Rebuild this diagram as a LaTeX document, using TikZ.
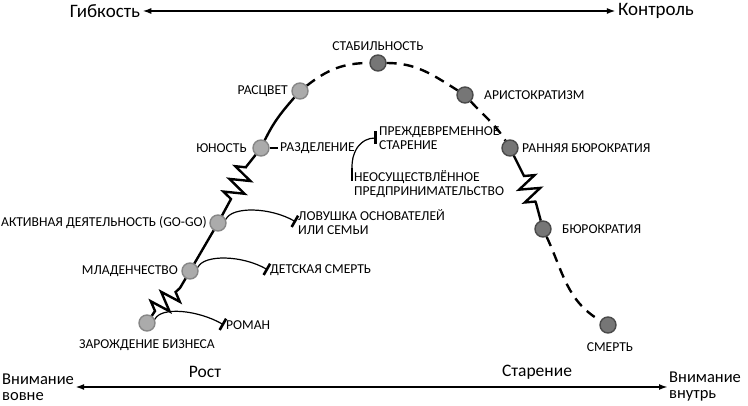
\documentclass[tikz,border=0pt]{standalone}
\usepackage{fontspec}
\setmainfont{Carlito}
\usetikzlibrary{arrows.meta,decorations.pathmorphing}
\definecolor{youngfill}{HTML}{ABABAB}
\definecolor{youngline}{HTML}{878787}
\definecolor{oldfill}{HTML}{767676}
\definecolor{oldline}{HTML}{4A4A4A}

\begin{document}
\begin{tikzpicture}[x=1pt,y=1pt,
    every node/.style={font=\fontsize{13.6}{14.5}\selectfont, inner sep=2pt},
    stage/.style={circle, line width=1.4pt, minimum size=16pt, inner sep=0pt},
    young/.style={stage, draw=youngline, fill=youngfill},
    old/.style={stage, draw=oldline, fill=oldfill},
    big/.style={font=\fontsize{17.5}{16.5}\selectfont},
    huge/.style={font=\fontsize{19}{19}\selectfont},
    side/.style={font=\fontsize{16.5}{16}\selectfont, anchor=west, align=left, inner sep=1pt},
    curve/.style={line width=2.4pt},
    gone/.style={curve, dash pattern=on 10pt off 7pt},
    zz/.style={decoration={zigzag, segment length=14pt, amplitude=10pt}},
    twig/.style={line width=1.2pt},
    trap/.style={twig, -{Bar[width=13pt, line width=2.6pt]}},
    stopbar/.style={line width=2.6pt},
    axis/.style={line width=1.8pt, {Latex[length=9pt,width=6pt]}-{Latex[length=9pt,width=6pt]}}]
    \useasboundingbox (0,0) rectangle (748,406);

    \node (zar)[young]   at (147,83)  {};
    \node (mlad)[young]  at (190,135) {};
    \node (gogo)[young]  at (218,183) {};
    \node (yun)[young]   at (261,258) {};
    \node (rasc)[young]  at (300,315) {};
    \node (stab)[old]    at (378,343) {};
    \node (arist)[old]   at (465,311) {};
    \node (rbur)[old]    at (510,258) {};
    \node (bur)[old]     at (543,177) {};
    \node (smert)[old]   at (608,81)  {};

    \node (zarT)                 at (147,61)  {ЗАРОЖДЕНИЕ БИЗНЕСА};
    \node (mladT)[anchor=east]   at (180,135) {МЛАДЕНЧЕСТВО};
    \node (gogoT)[anchor=east]   at (209,183) {АКТИВНАЯ ДЕЯТЕЛЬНОСТЬ (GO-GO)};
    \node (yunT)[anchor=east]    at (249,258) {ЮНОСТЬ};
    \node (rascT)[anchor=east]   at (290,315) {РАСЦВЕТ};
    \node (stabT)                at (378,360) {СТАБИЛЬНОСТЬ};
    \node (aristT)[anchor=west]  at (482,311) {АРИСТОКРАТИЗМ};
    \node (rburT)[anchor=west]   at (520,258) {РАННЯЯ БЮРОКРАТИЯ};
    \node (burT)[anchor=west]    at (560,177) {БЮРОКРАТИЯ};
    \node (smertT)               at (610,59)  {СМЕРТЬ};

    \node (roman)[anchor=west]   at (224,81)  {РОМАН};
    \node (det)[anchor=west]     at (268,136) {ДЕТСКАЯ СМЕРТЬ};
    \node (lov)[anchor=west, align=left]   at (296,184) {ЛОВУШКА ОСНОВАТЕЛЕЙ\\ИЛИ СЕМЬИ};
    \node (razd)[anchor=west]    at (278,258) {РАЗДЕЛЕНИЕ};
    \node (prezh)[anchor=west, align=left] at (377,268) {ПРЕЖДЕВРЕМЕННОЕ\\СТАРЕНИЕ};
    \node (neo)[anchor=north west, align=left] at (352,238) {НЕОСУЩЕСТВЛЁННОЕ\\ПРЕДПРИНИМАТЕЛЬСТВО};

    \node (gib)[huge]   at (105,395) {Гибкость};
    \node (kontr)[huge] at (656,395) {Контроль};
    \node (vovne)[side] at (1,19)   {Внимание\\вовне};
    \node (vnutr)[side] at (668,19) {Внимание\\внутрь};
    \node (rost)[big]   at (205,34) {Рост};
    \node (star)[big]   at (537,34) {Старение};

    \coordinate (z1a) at (155,95);
    \coordinate (z1b) at (180,118);
    \coordinate (z2a) at (231,207);
    \coordinate (z2b) at (246,239);
    \coordinate (z3a) at (524,230);
    \coordinate (z3b) at (536,203);
    \coordinate (neobar) at (352,225);

    \draw[curve] (zar) -- (z1a) decorate[zz]{-- (z1b)} -- (mlad) -- (gogo)
      -- (z2a) decorate[zz]{-- (z2b)} -- (yun);
    \draw[curve] (yun) to[out=64,in=229] (rasc);
    \draw[gone] (rasc) to[out=38,in=180] (stab) to[out=0,in=148] (arist)
      to[out=-48,in=122] (rbur);
    \draw[curve] (rbur) -- (z3a) decorate[zz]{-- (z3b)} -- (bur);
    \draw[gone] (bur) to[out=-65,in=150] (smert);
    \draw[curve] (yun) -- (razd);

    \foreach \from/\to in {zar/roman, mlad/det, gogo/lov}
      \draw[trap] (\from.25) .. controls +(6,13) and +(-26,15) .. (\to.west);
    \draw[trap] (razd.east) to[out=55,in=180] (prezh.west);
    \draw[twig] (razd.east) to[out=-120,in=90] (neo.north west);
    \draw[stopbar] (neo.north west) -- (neobar);

    \draw[axis] (gib) -- (kontr);
    \draw[axis] (vovne) -- (vnutr);
\end{tikzpicture}
\end{document}
